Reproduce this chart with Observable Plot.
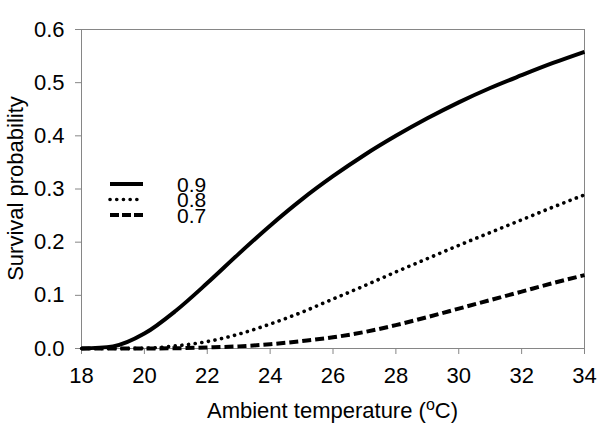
<!DOCTYPE html>
<html><head><meta charset="utf-8">
<script src="https://cdn.jsdelivr.net/npm/d3@7"></script>
<script src="https://cdn.jsdelivr.net/npm/@observablehq/plot@0.6"></script>
<style>body{margin:0;background:#fff}#chart svg{display:block}</style>
</head><body><div id="chart"></div>
<script>
// Ambient temperature (°C)
const temps = [18,19,20,21,22,23,24,25,26,27,28,29,30,31,32,33,34];
// survival probability series
const p09 = [0,0.004,0.028,0.071,0.123,0.178,0.231,0.28,0.324,0.364,0.4,0.433,0.463,0.49,0.514,0.537,0.558];
const p08 = [0,0,0.0005,0.005,0.013,0.027,0.046,0.068,0.093,0.118,0.144,0.169,0.194,0.218,0.242,0.266,0.289];
const p07 = [0,0,0,0.0005,0.002,0.004,0.008,0.014,0.021,0.031,0.044,0.059,0.075,0.091,0.107,0.123,0.138];
const seriesLabels = ["0.9","0.8","0.7"];
const xTicks = [18,20,22,24,26,28,30,32,34];
const yTicks = [0,0.1,0.2,0.3,0.4,0.5,0.6];
const yTitle = "Survival probability";
const xTitleParts = ["Ambient temperature (", "o", "C)"];

const seriesValues = [p09, p08, p07];
const styles = {
  "0.9": {strokeWidth: 4, strokeDasharray: null, strokeLinecap: "butt"},
  "0.8": {strokeWidth: 3.6, strokeDasharray: "0.1,6.6", strokeLinecap: "round"},
  "0.7": {strokeWidth: 4, strokeDasharray: "9,4", strokeLinecap: "butt"}
};
const rows = seriesLabels.flatMap((s, k) => temps.map((t, i) => ({t, p: seriesValues[k][i], s})));

const W = 600, H = 426, mL = 81, mR = 16, mT = 29, mB = 78;
const grey = "#868686";
const font = "'Liberation Sans', Arial, sans-serif";

const chart = Plot.plot({
  width: W, height: H,
  marginLeft: mL, marginRight: mR, marginTop: mT, marginBottom: mB,
  style: {fontFamily: font, fontSize: "22px", background: "#fff", color: "#000"},
  x: {domain: [18, 34]},
  y: {domain: [0, 0.6]},
  marks: [
    Plot.frame({stroke: grey, strokeWidth: 1}),
    Plot.axisX(xTicks, {tickSize: 6, tickPadding: 13, stroke: grey, fill: "#000", label: null}),
    Plot.axisY(yTicks, {tickSize: 6, tickPadding: 11, stroke: grey, fill: "#000", tickFormat: d3.format(".1f"), label: null}),
    ...seriesLabels.map(s => Plot.line(rows.filter(d => d.s === s), {
      x: "t", y: "p", stroke: "#000", curve: "monotone-x", ...styles[s]
    }))
  ]
});
document.getElementById("chart").appendChild(chart);

const svg = d3.select(chart);
// x title
const xt = svg.append("text")
  .attr("x", (mL + W - mR) / 2).attr("y", 418)
  .attr("text-anchor", "middle").attr("font-family", font).attr("font-size", 22).attr("fill", "#000");
xt.append("tspan").text(xTitleParts[0]);
xt.append("tspan").attr("dy", -8).attr("font-size", 16).text(xTitleParts[1]);
xt.append("tspan").attr("dy", 8).text(xTitleParts[2]);
// y title
svg.append("text")
  .attr("transform", `translate(23,${(mT + H - mB) / 2}) rotate(-90)`)
  .attr("text-anchor", "middle").attr("font-family", font).attr("font-size", 22).attr("fill", "#000")
  .text(yTitle);
// legend
const lg = svg.append("g").attr("font-family", font).attr("font-size", 21).attr("text-anchor", "start");
seriesLabels.forEach((s, i) => {
  const cy = 184 + i * 15.5;
  const st = styles[s];
  lg.append("line").attr("x1", 110).attr("x2", 143).attr("y1", cy).attr("y2", cy)
    .attr("stroke", "#000").attr("stroke-width", st.strokeWidth)
    .attr("stroke-dasharray", s === "0.7" ? "9,3" : st.strokeDasharray)
    .attr("stroke-linecap", st.strokeLinecap);
  lg.append("text").attr("x", 177).attr("y", cy + 7.8).attr("text-anchor", "start").attr("fill", "#000").text(s);
});
</script>
</body></html>
